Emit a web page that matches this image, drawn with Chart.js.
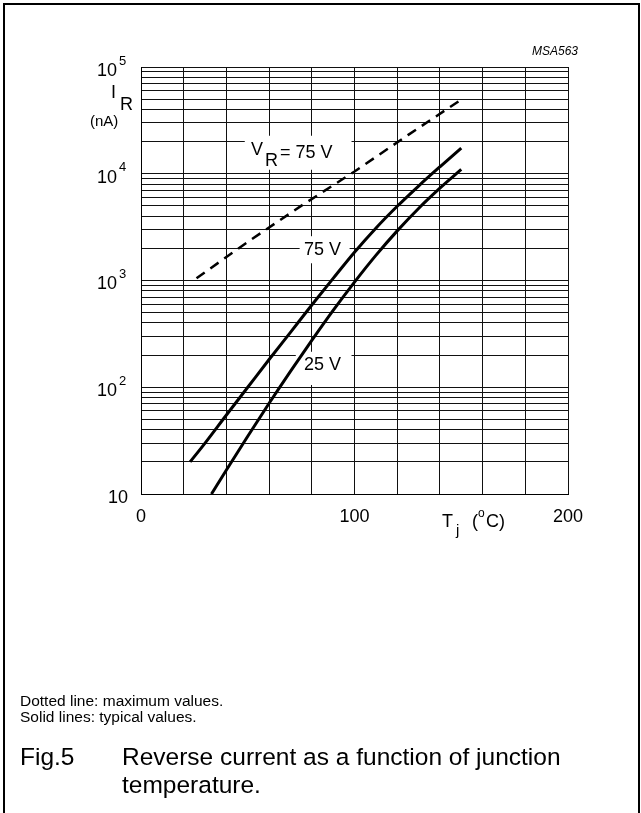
<!DOCTYPE html>
<html>
<head>
<meta charset="utf-8">
<script src="https://cdn.jsdelivr.net/npm/chart.js@4.4.0/dist/chart.umd.min.js"></script>
<style>
  body { margin: 0; background: #fff; font-family: "Liberation Sans", Arial, sans-serif; }
  #frame { position: absolute; left: 3px; top: 3px; width: 633px; height: 830px; border: 2px solid #000; }
  #wrap { position: absolute; left: 0; top: 0; width: 641px; height: 813px; }
  .note { position: absolute; left: 20px; font-size: 15.5px; color: #000; }
  .cap { position: absolute; font-size: 24.5px; color: #000; }
</style>
</head>
<body>
<div id="frame"></div>
<div id="wrap"><canvas id="chart" width="641" height="813"></canvas></div>
<div class="note" style="top:692px">Dotted line: maximum values.</div>
<div class="note" style="top:708px">Solid lines: typical values.</div>
<div class="cap" style="left:20px; top:743px">Fig.5</div>
<div class="cap" style="left:122px; top:743px">Reverse current as a function of junction</div>
<div class="cap" style="left:122px; top:771px">temperature.</div>
<script>
// junction temperature (degC) and reverse current (nA)
var maxTemp = [26, 50, 75, 100, 125, 149];
var maxIR = [1050, 2300, 5000, 10500, 23000, 48000];

var typ75Temp = [23, 30, 40, 50, 60, 70, 80, 90, 100, 110, 120, 130, 140, 150];
var typ75IR = [20, 30, 55, 100, 182, 327, 589, 1047, 1841, 3090, 4955, 7674, 11614, 17378];

var typ25Temp = [33, 40, 50, 60, 70, 80, 90, 100, 110, 120, 130, 140, 150];
var typ25IR = [10, 16.8, 34.7, 70.8, 141, 275, 525, 966, 1718, 2917, 4732, 7328, 10965];

var xTicks = [0, 100, 200];
var yDecades = [1, 2, 3, 4, 5];

function pts(t, v) {
  return t.map(function (x, i) { return { x: x, y: v[i] }; });
}

// white boxes behind the curve labels: [tMin, tMax, iMin, iMax]
var boxes = [
  [48.6, 98.6, 10900, 22700],
  [74.3, 97.7, 1450, 2600],
  [72.5, 98.6, 105, 215]
];

var FONT = '"Liberation Sans", Arial, sans-serif';

var textPlugin = {
  id: 'texts',
  beforeDatasetsDraw: function (chart) {
    var ctx = chart.ctx, xs = chart.scales.x, ys = chart.scales.y;
    ctx.save();
    ctx.fillStyle = '#fff';
    boxes.forEach(function (b) {
      var x1 = xs.getPixelForValue(b[0]), x2 = xs.getPixelForValue(b[1]);
      var y1 = ys.getPixelForValue(b[3]), y2 = ys.getPixelForValue(b[2]);
      ctx.fillRect(x1, y1, x2 - x1, y2 - y1);
    });
    ctx.restore();
  },
  afterDraw: function (chart) {
    var ctx = chart.ctx, xs = chart.scales.x, ys = chart.scales.y;
    ctx.save();
    ctx.fillStyle = '#000';
    ctx.textBaseline = 'middle';

    // y tick labels
    yDecades.forEach(function (d) {
      var y = ys.getPixelForValue(Math.pow(10, d)) + 4;
      ctx.font = '18px ' + FONT;
      if (d === 1) {
        ctx.textAlign = 'right';
        ctx.fillText('10', 128, y);
      } else {
        ctx.textAlign = 'left';
        ctx.fillText('10', 97, y);
        ctx.font = '13px ' + FONT;
        ctx.fillText(String(d), 119, y - 10);
      }
    });

    // x tick labels
    ctx.font = '18px ' + FONT;
    ctx.textAlign = 'center';
    xTicks.forEach(function (t) {
      ctx.fillText(String(t), xs.getPixelForValue(t), 517);
    });

    // axis titles
    ctx.textAlign = 'left';
    ctx.font = '18px ' + FONT;
    ctx.fillText('I', 111, 93);
    ctx.fillText('R', 120, 105);
    ctx.font = '15px ' + FONT;
    ctx.fillText('(nA)', 90, 122);

    ctx.font = '18px ' + FONT;
    ctx.fillText('T', 442, 522);
    ctx.font = '15px ' + FONT;
    ctx.fillText('j', 456, 531);
    ctx.font = '18px ' + FONT;
    ctx.fillText('(', 472, 522);
    ctx.font = '12px ' + FONT;
    ctx.fillText('o', 478, 514);
    ctx.font = '18px ' + FONT;
    ctx.fillText('C)', 486, 522);

    // curve labels
    ctx.fillText('V', 251, 150);
    ctx.fillText('R', 265, 161);
    ctx.fillText('= 75 V', 280, 153);
    ctx.textAlign = 'center';
    ctx.fillText('75 V', xs.getPixelForValue(85), ys.getPixelForValue(1950));
    ctx.fillText('25 V', xs.getPixelForValue(85), ys.getPixelForValue(160));

    // drawing code
    ctx.textAlign = 'right';
    ctx.font = 'italic 12px ' + FONT;
    ctx.fillText('MSA563', 578, 52);
    ctx.restore();
  }
};

var gridStyle = { color: '#111', lineWidth: 1, drawTicks: false };

new Chart(document.getElementById('chart'), {
  type: 'line',
  data: {
    datasets: [
      { data: pts(maxTemp, maxIR), borderColor: '#000', borderWidth: 2.5, borderDash: [10, 7], pointRadius: 0, fill: false, tension: 0 },
      { data: pts(typ75Temp, typ75IR), borderColor: '#000', borderWidth: 3, pointRadius: 0, fill: false, cubicInterpolationMode: 'monotone' },
      { data: pts(typ25Temp, typ25IR), borderColor: '#000', borderWidth: 3, pointRadius: 0, fill: false, cubicInterpolationMode: 'monotone' }
    ]
  },
  options: {
    responsive: false,
    animation: false,
    devicePixelRatio: 1,
    layout: { padding: { left: 141, right: 73, top: 67, bottom: 319 } },
    plugins: { legend: { display: false }, tooltip: { enabled: false } },
    scales: {
      x: {
        type: 'linear', min: 0, max: 200,
        ticks: { display: false, stepSize: 20 },
        grid: gridStyle,
        border: { display: true, color: '#000', width: 1 }
      },
      y: {
        type: 'logarithmic', min: 10, max: 100000,
        ticks: { display: false },
        afterBuildTicks: function (scale) {
          var t = [];
          for (var d = 1; d < 5; d++) {
            for (var m = 1; m < 10; m++) t.push({ value: m * Math.pow(10, d) });
          }
          t.push({ value: 100000 });
          scale.ticks = t;
        },
        grid: gridStyle,
        border: { display: true, color: '#000', width: 1 }
      }
    }
  },
  plugins: [textPlugin]
});
</script>
</body>
</html>
